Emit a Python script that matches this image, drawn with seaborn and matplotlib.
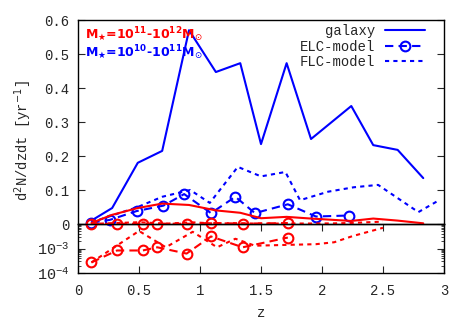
import numpy as np
import pandas as pd
import matplotlib
matplotlib.use("Agg")
import matplotlib.pyplot as plt
import seaborn as sns
from matplotlib.ticker import LogLocator, NullFormatter, FixedLocator, LogFormatterMathtext

# ---------------- data ----------------
z_gal = [0.11, 0.28, 0.49, 0.69, 0.91, 1.13, 1.33, 1.50, 1.71, 1.91, 2.24, 2.42, 2.62, 2.83]
gal_lo = [0.010, 0.047, 0.180, 0.215, 0.570, 0.447, 0.473, 0.235, 0.473, 0.250, 0.347, 0.232, 0.218, 0.135]
gal_hi = [0.003, 0.027, 0.047, 0.060, 0.056, 0.040, 0.033, 0.017, 0.021, 0.016, 0.009, 0.016, 0.010, 0.002]

z_elc_lo = [0.11, 0.26, 0.48, 0.70, 0.87, 1.09, 1.29, 1.45, 1.72, 1.95, 2.22]
elc_lo = [0.004, 0.012, 0.038, 0.054, 0.088, 0.032, 0.080, 0.032, 0.058, 0.022, 0.025]

z_flc_lo = [0.11, 0.28, 0.49, 0.69, 0.92, 1.08, 1.31, 1.50, 1.70, 1.82, 2.05, 2.26, 2.46, 2.79, 2.95]
flc_lo = [0.005, 0.025, 0.050, 0.080, 0.100, 0.062, 0.168, 0.140, 0.153, 0.070, 0.095, 0.108, 0.115, 0.035, 0.068]

z_elc_hi = [0.11, 0.32, 0.53, 0.65, 0.89, 1.09, 1.35, 1.72]
elc_hi = [2.7e-4, 8.3e-4, 8.3e-4, 1.12e-3, 6.2e-4, 3.1e-3, 1.12e-3, 2.8e-3]

z_flc_hi = [0.11, 0.50, 0.72, 0.94, 1.14, 1.29, 1.45, 1.70, 1.95, 2.10, 2.25, 2.50]
flc_hi = [2.7e-4, 5.2e-3, 1.12e-3, 4.8e-3, 1.12e-3, 2.5e-3, 1.3e-3, 1.4e-3, 1.5e-3, 1.8e-3, 3.2e-3, 7.0e-3]

x_ticks = [0, 0.5, 1, 1.5, 2, 2.5, 3]
x_ticklabels = ["0", "0.5", "1", "1.5", "2", "2.5", "3"]
y_ticks = [0, 0.1, 0.2, 0.3, 0.4, 0.5, 0.6]
y_ticklabels = ["0", "0.1", "0.2", "0.3", "0.4", "0.5", "0.6"]

# ---------------- style ----------------
sns.set_style("ticks")
plt.rcParams["font.family"] = ["Liberation Mono", "DejaVu Sans"]
plt.rcParams["mathtext.fontset"] = "dejavusans"
plt.rcParams["xtick.direction"] = "in"
plt.rcParams["ytick.direction"] = "in"
plt.rcParams["axes.edgecolor"] = "black"
plt.rcParams["axes.linewidth"] = 1.0

BLUE = "#0000ff"
RED = "#ff0000"
LW = 1.5
ELC_LS = (0, (4, 2.5))
FLC_LS = (0, (2, 2))
MK = dict(marker="o", markersize=7, markeredgewidth=1.5, markerfacecolor="none")

W, H = 458, 321
fig = plt.figure(figsize=(W / 100, H / 100), dpi=100)
L, R, T, Z, B = 78, 444, 20, 224, 273
ax1 = fig.add_axes([L / W, 1 - Z / H, (R - L) / W, (Z - T) / H])
ax2 = fig.add_axes([L / W, 1 - B / H, (R - L) / W, (B - Z) / H])
ax1.set_zorder(3)
ax1.patch.set_alpha(0)

# ---------------- upper (linear) ----------------
sns.lineplot(x=z_gal, y=gal_lo, ax=ax1, color=BLUE, lw=LW, label="galaxy")
sns.lineplot(x=z_elc_lo, y=elc_lo, ax=ax1, color=BLUE, lw=LW, linestyle=ELC_LS,
             markeredgecolor=BLUE, label="ELC-model", clip_on=False, **MK)
sns.lineplot(x=z_flc_lo, y=flc_lo, ax=ax1, color=BLUE, lw=LW, linestyle=FLC_LS,
             label="FLC-model")
sns.lineplot(x=z_gal, y=gal_hi, ax=ax1, color=RED, lw=LW, label="_nolegend_")
sns.lineplot(x=z_elc_hi, y=elc_hi, ax=ax1, color=RED, lw=LW, linestyle=ELC_LS,
             markeredgecolor=RED, label="_nolegend_", clip_on=False, **MK)
sns.lineplot(x=z_flc_hi, y=flc_hi, ax=ax1, color=RED, lw=LW, linestyle=FLC_LS,
             label="_nolegend_", clip_on=False)

ax1.set_xlim(0, 3)
ax1.set_ylim(0, 0.6)
ax1.set_yticks(y_ticks)
ax1.set_yticklabels(y_ticklabels, fontsize=10)
ax1.tick_params(axis="y", which="both", left=True, right=True, length=5, pad=6)
ax1.tick_params(axis="x", which="both", bottom=False, top=False, labelbottom=False)
ax1.set_xlabel("")
ax1.set_ylabel("")

handles, labels = ax1.get_legend_handles_labels()
leg = ax1.legend(handles, labels, loc="upper right", bbox_to_anchor=(425 / W, 1 - 24 / H),
                 bbox_transform=fig.transFigure, frameon=False, markerfirst=False,
                 fontsize=10, handlelength=2.9, handletextpad=0.7, labelspacing=0.12,
                 borderpad=0, borderaxespad=0, numpoints=1)

# ---------------- lower (log) ----------------
sns.lineplot(x=z_elc_hi, y=elc_hi, ax=ax2, color=RED, lw=LW, linestyle=ELC_LS,
             markeredgecolor=RED, label="_nolegend_", **MK)
sns.lineplot(x=z_flc_hi, y=flc_hi, ax=ax2, color=RED, lw=LW, linestyle=FLC_LS,
             label="_nolegend_")
ax2.set_yscale("log")
ax2.set_xlim(0, 3)
ax2.set_ylim(1e-4, 1e-2)
ax2.yaxis.set_major_locator(FixedLocator([1e-4, 1e-3]))
ax2.yaxis.set_major_formatter(LogFormatterMathtext())
ax2.yaxis.set_minor_locator(LogLocator(base=10, subs=np.arange(2, 10), numticks=10))
ax2.yaxis.set_minor_formatter(NullFormatter())
ax2.tick_params(axis="y", which="major", left=True, right=True, length=5, pad=6, labelsize=11)
ax2.tick_params(axis="y", which="minor", left=True, right=True, length=2.5)
ax2.set_xticks(x_ticks)
ax2.set_xticklabels(x_ticklabels, fontsize=10)
ax2.tick_params(axis="x", which="both", bottom=True, top=True, length=5, pad=8)
ax2.set_xlabel("")
ax2.set_ylabel("")
if ax2.get_legend() is not None:
    ax2.get_legend().remove()

# ---------------- text ----------------
fig.text(23 / W, 1 - 141 / H, r"d$^2$N/dzdt [yr$^{-1}$]", rotation=90,
         ha="center", va="center", fontsize=10)
fig.text(261 / W, 1 - 313 / H, "z", ha="center", va="center", fontsize=10)
ann_hi = r"M$_{\bigstar}$=10$^{\mathbf{11}}$-10$^{\mathbf{12}}$M$_{\odot}$"
ann_lo = r"M$_{\bigstar}$=10$^{\mathbf{10}}$-10$^{\mathbf{11}}$M$_{\odot}$"
fig.text(85 / W, 1 - 35 / H, ann_hi, color=RED, ha="left", va="center",
         fontsize=9, family="DejaVu Sans", weight="bold")
fig.text(85 / W, 1 - 53 / H, ann_lo, color=BLUE, ha="left", va="center",
         fontsize=9, family="DejaVu Sans", weight="bold")

fig.savefig("out.png", dpi=100)
